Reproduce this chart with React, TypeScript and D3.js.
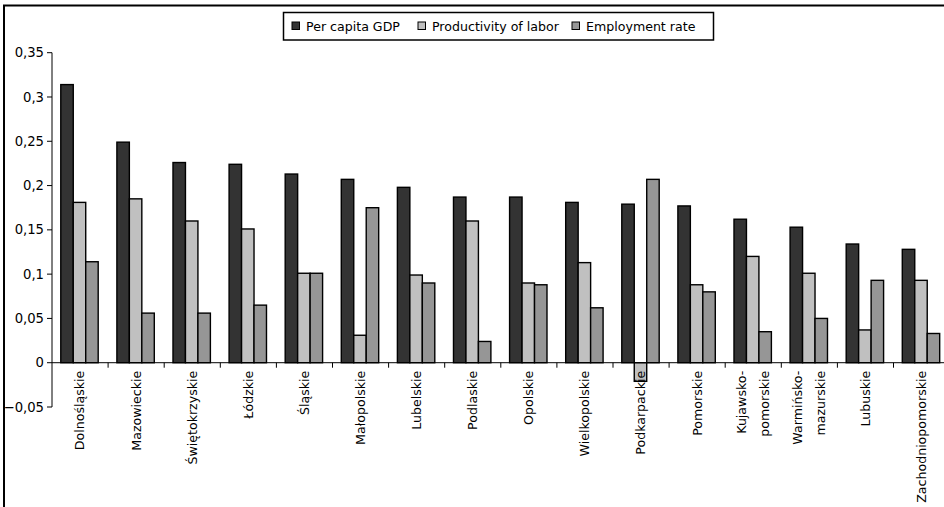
import React from 'react';
import * as d3 from 'd3';

// regions (label lines) and the three indicators
const regions: string[][] = [
  ['Dolnośląskie'],
  ['Mazowieckie'],
  ['Świętokrzyskie'],
  ['Łódzkie'],
  ['Śląskie'],
  ['Małopolskie'],
  ['Lubelskie'],
  ['Podlaskie'],
  ['Opolskie'],
  ['Wielkopolskie'],
  ['Podkarpackie'],
  ['Pomorskie'],
  ['Kujawsko-', 'pomorskie'],
  ['Warmińsko-', 'mazurskie'],
  ['Lubuskie'],
  ['Zachodniopomorskie'],
];

const seriesNames = ['Per capita GDP', 'Productivity of labor', 'Employment rate'];
const seriesColors = ['#333333', '#c0c0c0', '#969696'];

const gdp = [0.314, 0.249, 0.226, 0.224, 0.213, 0.207, 0.198, 0.187, 0.187, 0.181, 0.179, 0.177, 0.162, 0.153, 0.134, 0.128];
const productivity = [0.181, 0.185, 0.16, 0.151, 0.101, 0.031, 0.099, 0.16, 0.09, 0.113, -0.021, 0.088, 0.12, 0.101, 0.037, 0.093];
const employment = [0.114, 0.056, 0.056, 0.065, 0.101, 0.175, 0.09, 0.024, 0.088, 0.062, 0.207, 0.08, 0.035, 0.05, 0.093, 0.033];

const yTicks = [-0.05, 0, 0.05, 0.1, 0.15, 0.2, 0.25, 0.3, 0.35];

const font = '"DejaVu Sans", Verdana, sans-serif';

export default function App() {
  const width = 944;
  const height = 507;
  const left = 52;
  const right = 949.6;

  const keys = regions.map((r) => r.join(' '));
  const values = [gdp, productivity, employment];

  const x0 = d3.scaleBand<string>().domain(keys).range([left, right]).padding(0);
  const bw = x0.bandwidth();
  const gap = bw / 3;
  const x1 = d3.scaleBand<string>().domain(seriesNames).range([gap * 0.47, bw - gap * 0.53]).padding(0);
  const y = d3.scaleLinear().domain([-0.05, 0.35]).range([407, 52.7]);
  const fmt = (v: number) => d3.format('.2~f')(v).replace('.', ',');

  return (
    <svg width={width} height={height} style={{ position: 'absolute', left: 0, top: 0, background: '#fff', display: 'block' }} fontFamily={font}>
      <path d={`M4,${height + 5}V5.5H${width + 5}`} fill="none" stroke="#000" strokeWidth={2} />

      {/* legend */}
      <rect x={283.5} y={12.5} width={430} height={27.5} fill="#fff" stroke="#000" strokeWidth={1.5} />
      {seriesNames.map((s, i) => {
        const lx = [292, 418, 572][i];
        return (
          <g key={s}>
            <rect x={lx} y={22} width={7.5} height={7.5} fill={seriesColors[i]} stroke="#000" strokeWidth={1} />
            <text x={lx + 14} y={30.5} fontSize={12.6} fill="#000">{s}</text>
          </g>
        );
      })}

      {/* bars */}
      {keys.map((k, ci) => (
        <g key={k} transform={`translate(${x0(k)},0)`}>
          {seriesNames.map((s, si) => {
            const v = values[si][ci];
            const yTop = y(Math.max(0, v));
            const yBot = y(Math.min(0, v));
            return (
              <rect key={s} x={x1(s)} y={yTop} width={x1.bandwidth()} height={yBot - yTop}
                fill={seriesColors[si]} stroke="#000" strokeWidth={1.4} />
            );
          })}
        </g>
      ))}

      {/* y axis */}
      <line x1={left} x2={left} y1={y(0.35)} y2={y(-0.05)} stroke="#000" strokeWidth={1} />
      {yTicks.map((t) => (
        <g key={t}>
          <line x1={left - 5} x2={left} y1={y(t)} y2={y(t)} stroke="#000" strokeWidth={1} />
          <text x={left - 8} y={y(t)} dy="0.35em" textAnchor="end" fontSize={13.2} fill="#000">{fmt(t)}</text>
        </g>
      ))}

      {/* x axis at zero */}
      <line x1={left} x2={right} y1={y(0)} y2={y(0)} stroke="#000" strokeWidth={1} />
      {keys.map((k) => (
        <line key={k} x1={x0(k)! + bw} x2={x0(k)! + bw} y1={y(0)} y2={y(0) + 5} stroke="#000" strokeWidth={1} />
      ))}

      {/* category labels */}
      {regions.map((lines, ci) => {
        const cx = x0(keys[ci])! + bw / 2;
        return lines.map((ln, li) => {
          const off = lines.length === 1 ? 0 : (li - 0.5) * 23;
          return (
            <text key={ln} transform={`translate(${cx + off},${y(0) + 8}) rotate(-90)`}
              textAnchor="end" dy="0.35em" fontSize={12.6} fill="#000">{ln}</text>
          );
        });
      })}
    </svg>
  );
}
